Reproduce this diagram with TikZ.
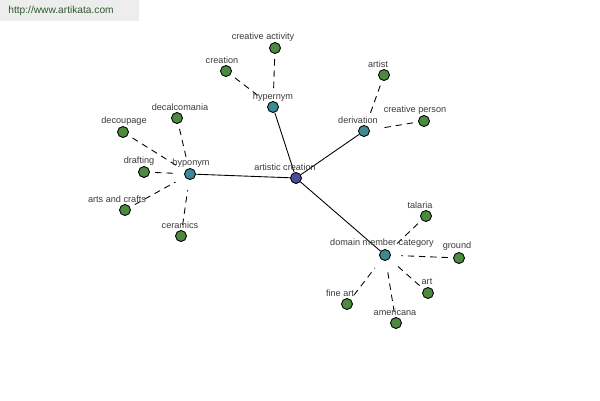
\documentclass[tikz,border=0pt]{standalone}
\usepackage{fontspec}
\setmainfont{Liberation Sans}
\usepackage{tikz}
\usetikzlibrary{arrows.meta,positioning}
\definecolor{rootblue}{HTML}{474F9A}
\definecolor{hubteal}{HTML}{3C8A92}
\definecolor{leafgreen}{HTML}{4C8A40}
\definecolor{labelgray}{HTML}{3A3A3A}
\definecolor{markgreen}{HTML}{2E5A2E}
\definecolor{markgray}{HTML}{EDEDED}
\tikzset{
  dot/.style={circle,draw=black,line width=0.5pt,minimum size=0.22cm,inner sep=0pt},
  rootdot/.style={dot,fill=rootblue},
  hubdot/.style={dot,fill=hubteal},
  leafdot/.style={dot,fill=leafgreen},
  tag/.style={font=\fontsize{5.2}{6}\selectfont,color=labelgray,inner sep=0pt},
  solidlink/.style={line width=0.5pt,color=black},
  dashlink/.style={line width=0.5pt,color=black,dash pattern=on 3.6pt off 2.8pt,
    shorten <=3pt,shorten >=6pt}
}

\begin{document}
\begin{tikzpicture}[x=0.02cm,y=-0.02cm]
    \path[use as bounding box] (0,0) rectangle (600,400);
    % watermark
    \fill[markgray] (0,0) rectangle (139,21);
    \node[font=\fontsize{5.8}{7}\selectfont,color=markgreen,anchor=west,inner sep=0pt]
      (mark) at (8,11) {http://www.artikata.com};
    % root and hubs
    \node[rootdot] (root) at (296,178) {};
    \node[hubdot] (hypo) at (190,174) {};
    \node[hubdot] (hyper) at (273,107) {};
    \node[hubdot] (deriv) at (364,131) {};
    \node[hubdot] (domain) at (385,255) {};
    % leaves
    \node[leafdot] (activity) at (275,48) {};
    \node[leafdot] (creation) at (226,71) {};
    \node[leafdot] (artist) at (384,75) {};
    \node[leafdot] (person) at (424,121) {};
    \node[leafdot] (decal) at (177,118) {};
    \node[leafdot] (decoup) at (123,132) {};
    \node[leafdot] (drafting) at (144,172) {};
    \node[leafdot] (crafts) at (125,210) {};
    \node[leafdot] (ceramics) at (181,236) {};
    \node[leafdot] (talaria) at (426,216) {};
    \node[leafdot] (ground) at (459,258) {};
    \node[leafdot] (art) at (428,293) {};
    \node[leafdot] (americana) at (396,323) {};
    \node[leafdot] (fineart) at (347,304) {};
    % links
    \foreach \hub in {hypo,hyper,deriv,domain}
      \draw[solidlink] (root) -- (\hub);
    \foreach \leaf in {activity,creation}
      \draw[dashlink] (\leaf) -- (hyper);
    \foreach \leaf in {artist,person}
      \draw[dashlink] (\leaf) -- (deriv);
    \foreach \leaf in {decal,decoup,drafting,crafts,ceramics}
      \draw[dashlink] (\leaf) -- (hypo);
    \foreach \leaf in {talaria,ground,art,americana,fineart}
      \draw[dashlink] (\leaf) -- (domain);
    % labels
    \node[tag] (rootlbl) at (285,167) {artistic creation};
    \node[tag] (hypolbl) at (191,163) {hyponym};
    \node[tag] (hyperlbl) at (273,97) {hypernym};
    \node[tag] (derivlbl) at (358,120) {derivation};
    \node[tag] (domainlbl) at (382,243) {domain member category};
    \node[tag] (activitylbl) at (263,37) {creative activity};
    \node[tag] (creationlbl) at (222,60) {creation};
    \node[tag] (artistlbl) at (378,64) {artist};
    \node[tag] (personlbl) at (415,110) {creative person};
    \node[tag] (decallbl) at (180,107) {decalcomania};
    \node[tag] (decouplbl) at (124,121) {decoupage};
    \node[tag] (draftinglbl) at (139,161) {drafting};
    \node[tag] (craftslbl) at (117,199) {arts and crafts};
    \node[tag] (ceramicslbl) at (180,225) {ceramics};
    \node[tag] (talarialbl) at (420,205) {talaria};
    \node[tag] (groundlbl) at (457,246) {ground};
    \node[tag] (artlbl) at (427,282) {art};
    \node[tag] (americanalbl) at (395,312) {americana};
    \node[tag] (fineartlbl) at (340,293) {fine art};
\end{tikzpicture}
\end{document}
